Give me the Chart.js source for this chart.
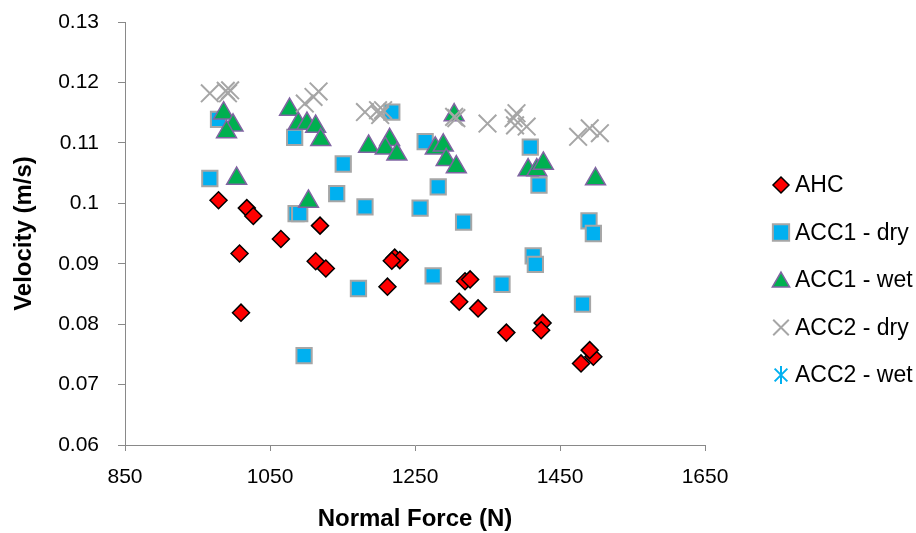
<!DOCTYPE html>
<html>
<head>
<meta charset="utf-8">
<script src="https://cdn.jsdelivr.net/npm/chart.js@4.4.1/dist/chart.umd.min.js"></script>
<style>
  html, body { margin: 0; padding: 0; background: #fff; }
  #wrap { width: 916px; height: 533px; }
</style>
</head>
<body>
<div id="wrap"><canvas id="c" width="916" height="533"></canvas></div>
<script>
// ---- Data ----
const seriesNames = ['AHC', 'ACC1 - dry', 'ACC1 - wet', 'ACC2 - dry', 'ACC2 - wet'];

const ahcForce = [979, 1018, 1027, 1065, 1008, 1010, 1119, 1113, 1127, 1222, 1229, 1218, 1212, 1319, 1326, 1311, 1337, 1376, 1426, 1424, 1479, 1496, 1491];
const ahcVel   = [0.1005, 0.0992, 0.0979, 0.0941, 0.0917, 0.0819, 0.0963, 0.0904, 0.0892, 0.0910, 0.0906, 0.0905, 0.0862, 0.0871, 0.0874, 0.0837, 0.0826, 0.0786, 0.0802, 0.0790, 0.0735, 0.0746, 0.0757];

const acc1DryForce = [967, 979, 1084, 1086, 1091, 1097, 1218, 1151, 1142, 1181, 1264, 1282, 1257, 1317, 1172, 1275, 1370, 1409, 1421, 1490, 1496, 1413, 1416, 1481];
const acc1DryVel   = [0.1041, 0.1139, 0.1109, 0.0983, 0.0983, 0.0748, 0.1151, 0.1065, 0.1016, 0.0994, 0.1102, 0.1027, 0.0992, 0.0969, 0.0859, 0.0880, 0.0866, 0.1093, 0.1030, 0.0971, 0.0950, 0.0913, 0.0899, 0.0833];

const acc1WetForce = [986, 999, 990, 1004, 1077, 1089, 1101, 1113, 1120, 1103, 1186, 1215, 1209, 1225, 1278, 1289, 1293, 1307, 1304, 1406, 1418, 1427, 1499];
const acc1WetVel   = [0.1149, 0.1129, 0.1118, 0.1041, 0.1155, 0.1132, 0.1132, 0.1127, 0.1105, 0.1003, 0.1094, 0.1105, 0.1091, 0.1081, 0.1091, 0.1096, 0.1072, 0.1060, 0.1146, 0.1055, 0.1055, 0.1066, 0.1040];

const acc2DryForce = [967, 989, 995, 992, 1098, 1110, 1117, 1181, 1199, 1206, 1202, 1304, 1307, 1350, 1390, 1388, 1404, 1386, 1475, 1491, 1505];
const acc2DryVel   = [0.1182, 0.1186, 0.1187, 0.1182, 0.1165, 0.1176, 0.1185, 0.1151, 0.1154, 0.1154, 0.1146, 0.1143, 0.1141, 0.1132, 0.1149, 0.1129, 0.1127, 0.1141, 0.1110, 0.1124, 0.1116];

const acc2WetForce = [];
const acc2WetVel   = [];

const xTicks = [850, 1050, 1250, 1450, 1650];
const yTicks = [0.06, 0.07, 0.08, 0.09, 0.1, 0.11, 0.12, 0.13];

const xTitle = 'Normal Force (N)';
const yTitle = 'Velocity (m/s)';

// ---- helpers ----
function pts(xs, ys) { return xs.map((x, i) => ({ x: x, y: ys[i] })); }

const FONT = '"Liberation Sans", Arial, sans-serif';

function drawMarker(ctx, style, x, y, r) {
  ctx.beginPath();
  if (style === 'rectRot') {
    ctx.moveTo(x, y - r); ctx.lineTo(x + r, y); ctx.lineTo(x, y + r); ctx.lineTo(x - r, y); ctx.closePath();
    ctx.fill(); ctx.stroke();
  } else if (style === 'rect') {
    const s = r * Math.SQRT1_2;
    ctx.rect(x - s, y - s, 2 * s, 2 * s);
    ctx.fill(); ctx.stroke();
  } else if (style === 'triangle') {
    ctx.moveTo(x, y - r); ctx.lineTo(x + 0.866 * r, y + 0.5 * r); ctx.lineTo(x - 0.866 * r, y + 0.5 * r); ctx.closePath();
    ctx.fill(); ctx.stroke();
  } else if (style === 'crossRot') {
    const s = r * Math.SQRT1_2;
    ctx.moveTo(x - s, y - s); ctx.lineTo(x + s, y + s);
    ctx.moveTo(x - s, y + s); ctx.lineTo(x + s, y - s);
    ctx.stroke();
  } else if (style === 'star') {
    const s = r * Math.SQRT1_2;
    ctx.moveTo(x - s, y - s); ctx.lineTo(x + s, y + s);
    ctx.moveTo(x - s, y + s); ctx.lineTo(x + s, y - s);
    ctx.moveTo(x, y - r); ctx.lineTo(x, y + r);
    ctx.stroke();
  }
}

const legendSizes = { rectRot: 8, rect: 11.5, triangle: 10, crossRot: 11, star: 9 };

const sideLegend = {
  id: 'sideLegend',
  afterDraw(chart) {
    const ctx = chart.ctx;
    const ds = chart.data.datasets;
    ctx.save();
    ctx.font = '23px ' + FONT;
    ctx.textAlign = 'left';
    ctx.textBaseline = 'middle';
    for (let i = 0; i < ds.length; i++) {
      const d = ds[i];
      const y = 185 + i * 47.5;
      ctx.fillStyle = d.backgroundColor;
      ctx.strokeStyle = d.borderColor;
      ctx.lineWidth = d.pointStyle === 'crossRot' || d.pointStyle === 'star' ? 2 : d.borderWidth;
      drawMarker(ctx, d.pointStyle, 781, y + (d.pointStyle === 'triangle' ? 2 : 0), legendSizes[d.pointStyle]);
      ctx.fillStyle = '#000';
      ctx.fillText(d.label, 795, y + 1);
    }
    ctx.restore();
  }
};

const axisColor = '#898989';

new Chart(document.getElementById('c'), {
  type: 'scatter',
  data: {
    datasets: [
      { label: seriesNames[0], data: pts(ahcForce, ahcVel), pointStyle: 'rectRot', pointRadius: 8.5, pointHoverRadius: 8.5,
        backgroundColor: '#FF0000', borderColor: '#000000', borderWidth: 1.5, order: 5 },
      { label: seriesNames[1], data: pts(acc1DryForce, acc1DryVel), pointStyle: 'rect', pointRadius: 10.8, pointHoverRadius: 10.8,
        backgroundColor: '#00B0F0', borderColor: '#A6A6A6', borderWidth: 2, order: 4 },
      { label: seriesNames[2], data: pts(acc1WetForce, acc1WetVel), pointStyle: 'triangle', pointRadius: 11.5, pointHoverRadius: 11.5,
        backgroundColor: '#00B050', borderColor: '#8064A2', borderWidth: 1.5, order: 3 },
      { label: seriesNames[3], data: pts(acc2DryForce, acc2DryVel), pointStyle: 'crossRot', pointRadius: 12.5, pointHoverRadius: 12.5,
        backgroundColor: '#A6A6A6', borderColor: '#A6A6A6', borderWidth: 2, order: 2 },
      { label: seriesNames[4], data: pts(acc2WetForce, acc2WetVel), pointStyle: 'star', pointRadius: 9, pointHoverRadius: 9,
        backgroundColor: '#00B0F0', borderColor: '#00B0F0', borderWidth: 1.5, order: 1 }
    ]
  },
  options: {
    responsive: false,
    animation: false,
    devicePixelRatio: 1,
    layout: { padding: { top: 22, right: 211, bottom: 0, left: 0 } },
    plugins: {
      legend: { display: false },
      tooltip: { enabled: false }
    },
    scales: {
      x: {
        type: 'linear',
        min: 850, max: 1650,
        afterBuildTicks: (s) => { s.ticks = xTicks.map(v => ({ value: v })); },
        afterFit: (s) => { s.height = 88; s.paddingLeft = 0; s.paddingRight = 0; },
        border: { display: true, color: axisColor, width: 1 },
        grid: { display: true, drawOnChartArea: false, drawTicks: true, tickLength: 6, color: axisColor },
        ticks: { color: '#000', padding: 14, font: { family: FONT, size: 21 }, maxRotation: 0, autoSkip: false,
                 callback: (v) => String(v) },
        title: { display: true, text: xTitle, color: '#000', font: { family: FONT, size: 24, weight: 'bold', lineHeight: 1 },
                 padding: { top: 0, bottom: 2 } }
      },
      y: {
        type: 'linear',
        min: 0.06, max: 0.13,
        afterBuildTicks: (s) => { s.ticks = yTicks.map(v => ({ value: v })); },
        afterFit: (s) => { s.width = 125; s.paddingTop = 0; s.paddingBottom = 0; },
        border: { display: true, color: axisColor, width: 1 },
        grid: { display: true, drawOnChartArea: false, drawTicks: true, tickLength: 7, color: axisColor },
        ticks: { color: '#000', padding: 19, font: { family: FONT, size: 21 }, autoSkip: false,
                 callback: (v) => String(+(+v).toFixed(2)) },
        title: { display: true, text: yTitle, color: '#000', font: { family: FONT, size: 24, weight: 'bold', lineHeight: 1 },
                 padding: { top: 12, bottom: 0 } }
      }
    }
  },
  plugins: [sideLegend]
});
</script>
</body>
</html>
